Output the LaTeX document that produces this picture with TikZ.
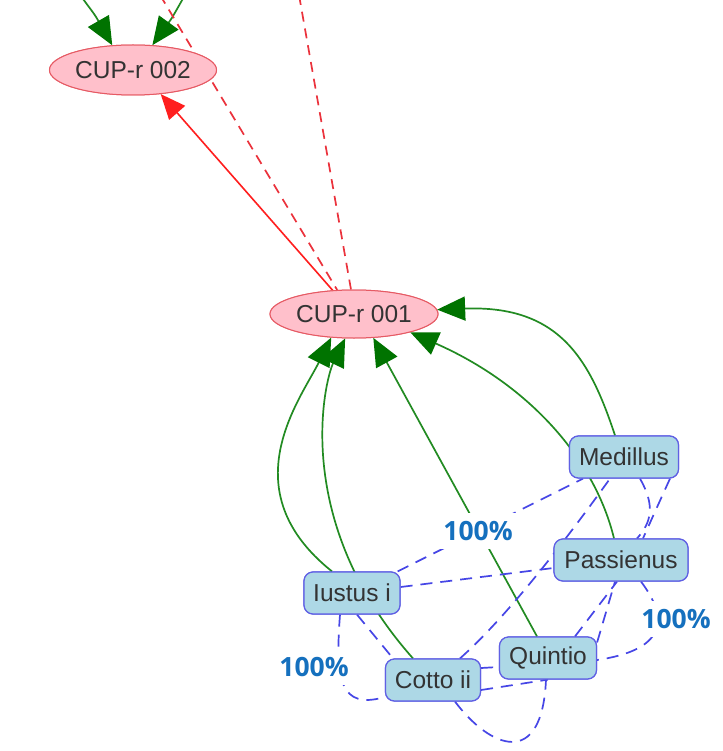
\documentclass[tikz,border=0pt]{standalone}
\usepackage{fontspec}
\setmainfont{Liberation Sans}
\newfontfamily\lblfont{Open Sans}
\usetikzlibrary{shapes.geometric,arrows.meta}
\definecolor{cupfill}{RGB}{255,192,203}
\definecolor{cupborder}{RGB}{230,90,100}
\definecolor{boxfill}{RGB}{173,216,230}
\definecolor{boxborder}{RGB}{96,96,228}
\definecolor{txt}{RGB}{51,51,51}
\definecolor{grline}{RGB}{34,139,34}
\definecolor{grhead}{RGB}{0,115,0}
\definecolor{redline}{RGB}{255,30,30}
\definecolor{reddash}{RGB}{235,50,60}
\definecolor{bdashc}{RGB}{70,70,230}
\definecolor{pctcol}{RGB}{21,112,190}
\begin{document}
\begin{tikzpicture}[x=1pt,y=-1pt,
  cup/.style={ellipse, draw=cupborder, fill=cupfill, line width=1pt, inner sep=0pt, text=txt, font=\fontsize{24.5}{28}\selectfont},
  boxn/.style={rectangle, rounded corners=9pt, draw=boxborder, fill=boxfill, line width=1.2pt, minimum height=42pt, inner sep=0pt, text=txt, font=\fontsize{24.5}{28}\selectfont},
  gre/.style={draw=grline, line width=1.7pt, -{Triangle[length=28pt,width=24pt,color=grhead]}},
  redarrow/.style={draw=redline, line width=1.6pt, -{Triangle[length=25pt,width=21pt]}},
  rdash/.style={draw=reddash, line width=1.7pt, dash pattern=on 10pt off 7pt},
  bdash/.style={draw=bdashc, line width=1.7pt, dash pattern=on 12pt off 8pt},
  pct/.style={fill=white, inner sep=8pt, text=pctcol, font=\lblfont\bfseries\fontsize{26.5}{30}\selectfont}]
\clip (0,0) rectangle (722,751);
\fill[white] (0,0) rectangle (722,751);

% node positions (nodes drawn later, on top)
\path
  (133,70) node[cup, minimum width=167pt, minimum height=50pt] (c2) {}
  (354,314) node[cup, minimum width=168pt, minimum height=48pt] (c1) {}
  (624,457) node[boxn, minimum width=109pt] (med) {}
  (621,560) node[boxn, minimum width=134pt] (pas) {}
  (352,593) node[boxn, minimum width=96pt] (ius) {}
  (548,658) node[boxn, minimum width=97pt] (qui) {}
  (433,680) node[boxn, minimum width=95pt] (cot) {};

\coordinate (t1) at (80,-5);
\coordinate (t2) at (185,-5);
\coordinate (t3) at (160,-5);
\coordinate (t4) at (299,-5);

% green edges
\draw[gre] (t1) .. controls (95,15) .. (c2.130);
\draw[gre] (t2) .. controls (172,18) .. (c2.52);
\draw[gre] ([xshift=-20pt]ius.north) .. controls (230,490) and (300,400) .. (c1.226);
\draw[gre] ([xshift=-20pt]cot.north) .. controls (290,520) and (325,380) .. (c1.250);
\draw[gre] ([xshift=-11pt]qui.north) -- (c1.309);
\draw[gre] ([xshift=-7pt]pas.north) .. controls (595,460) and (530,385) .. (c1.342);
\draw[gre] ([xshift=-9pt]med.north) .. controls (590,360) and (560,305) .. (c1.3);

% red edges
\draw[redarrow] (c1.132) -- (c2.319);
\draw[rdash] (t3) -- (c1.125);
\draw[rdash] (t4) -- (c1.97);

% blue dashed edges
\draw[bdash] ([xshift=-3pt]ius.north east) -- ([xshift=-41pt]med.south);
\draw[bdash] ([yshift=6pt]ius.east) -- ([yshift=-8pt]pas.west);
\draw[bdash] ([xshift=-12pt]ius.south) .. controls (335,680) and (340,710) .. ([yshift=-17pt]cot.west);
\draw[bdash] ([xshift=5pt]ius.south) -- ([xshift=-40pt]cot.north);
\draw[bdash] ([xshift=27pt]cot.north) .. controls (510,614) and (570,534) .. ([xshift=-14pt]med.south);
\draw[bdash] ([xshift=16pt]med.south) .. controls (655,505) and (652,522) .. ([xshift=16pt]pas.north);
\draw[bdash] ([xshift=46pt]med.south) .. controls (658,505) .. ([xshift=22pt]pas.north);
\draw[bdash] ([xshift=27pt]qui.north) -- ([xshift=-4pt]pas.south);
\draw[bdash] ([yshift=-6pt]qui.north east) -- ([xshift=-6pt]pas.south);
\draw[bdash] ([xshift=20pt]pas.south) .. controls (670,620) and (665,650) .. ([yshift=-2pt]qui.east);
\draw[bdash] ([yshift=12pt]cot.east) -- ([yshift=-9pt]qui.west);
\draw[bdash] ([yshift=-10pt]cot.east) -- (qui.south);
\draw[bdash] ([xshift=22pt]cot.south) .. controls (490,748) and (542,770) .. ([xshift=-2pt]qui.south);

% edge labels
\node[pct] (p1) at (478,531) {100\%};
\node[pct] (p2) at (676,619) {100\%};
\node[pct] (p3) at (314,667) {100\%};

% nodes on top
\node[cup, minimum width=167pt, minimum height=50pt] at (c2) {CUP-r 002};
\node[cup, minimum width=168pt, minimum height=48pt] at (c1) {CUP-r 001};
\node[boxn, minimum width=109pt] at (med) {Medillus};
\node[boxn, minimum width=134pt] at (pas) {Passienus};
\node[boxn, minimum width=96pt] at (ius) {Iustus i};
\node[boxn, minimum width=97pt] at (qui) {Quintio};
\node[boxn, minimum width=95pt] at (cot) {Cotto ii};
\end{tikzpicture}
\end{document}
